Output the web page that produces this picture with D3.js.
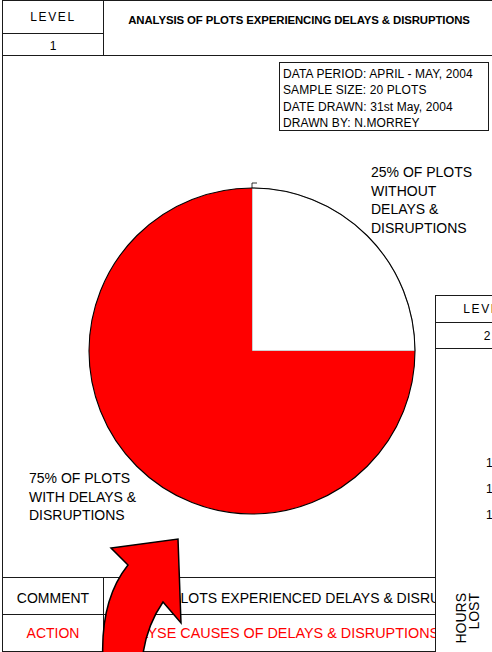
<!DOCTYPE html>
<html>
<head>
<meta charset="utf-8">
<script src="https://cdn.jsdelivr.net/npm/d3@7"></script>
<style>
  html, body { margin: 0; padding: 0; background: #fff; overflow: hidden; }
  svg { display: block; }
  text { font-family: "Liberation Sans", Arial, sans-serif; fill: #000; }
</style>
</head>
<body>
<svg id="chart" width="492" height="652"></svg>
<script>
// ---- data ----
const title = "ANALYSIS OF PLOTS EXPERIENCING DELAYS & DISRUPTIONS";
const levelNumbers = [1, 2];
const slicePercents = [25, 75];               // without / with delays
const sliceColors = ["#ffffff", "#ff0000"];
const sliceLabelLines = [
  ["WITHOUT", "DELAYS &", "DISRUPTIONS"],
  ["WITH DELAYS &", "DISRUPTIONS"]
];
const infoLines = [
  "DATA PERIOD: APRIL - MAY, 2004",
  "SAMPLE SIZE: 20 PLOTS",
  "DATE DRAWN: 31st May, 2004",
  "DRAWN BY: N.MORREY"
];
const commentText = "75% OF PLOTS EXPERIENCED DELAYS & DISRUPTIONS";
const actionText = "ANALYSE CAUSES OF DELAYS & DISRUPTIONS";
const hoursTicks = [100, 125, 150];
const hoursTitle = ["HOURS", "LOST"];

const svg = d3.select("#chart");
const line = "#1a1a1a";

function hline(g, x1, x2, y) {
  g.append("line").attr("x1", x1).attr("x2", x2).attr("y1", y).attr("y2", y)
    .attr("stroke", line).attr("stroke-width", 1);
}
function vline(g, x, y1, y2) {
  g.append("line").attr("x1", x).attr("x2", x).attr("y1", y1).attr("y2", y2)
    .attr("stroke", line).attr("stroke-width", 1);
}

// ---- level 1 sheet frame ----
const frame = svg.append("g");
const L = 2.5, R = 494, divX = 103.5;
hline(frame, L, R, 0.5);
hline(frame, L, divX, 33.5);
hline(frame, L, R, 55.5);
hline(frame, L, R, 577.5);
hline(frame, L, R, 614.5);
hline(frame, L, R, 651.5);
vline(frame, L, 0, 652);
vline(frame, divX, 0, 55.5);
vline(frame, divX, 577.5, 651.5);

frame.append("text").attr("x", 53).attr("y", 21)
  .attr("text-anchor", "middle").style("font-size", "12px").style("letter-spacing", "1.6px")
  .text("LEVEL");
frame.append("text").attr("x", 53).attr("y", 49.5)
  .attr("text-anchor", "middle").style("font-size", "12px")
  .text(levelNumbers[0]);
frame.append("text").attr("x", 299).attr("y", 24)
  .attr("text-anchor", "middle").style("font-size", "11.4px").style("font-weight", "bold")
  .style("letter-spacing", "-0.1px")
  .text(title);

// ---- info box ----
const info = svg.append("g");
info.append("rect").attr("x", 279.5).attr("y", 62.5).attr("width", 209).attr("height", 68)
  .attr("fill", "#fff").attr("stroke", line);
info.selectAll("text").data(infoLines).join("text")
  .attr("x", 283).attr("y", (d, i) => 77.5 + i * 16.5)
  .style("font-size", "12px").style("letter-spacing", "0.1px")
  .text(d => d);

// ---- pie ----
const cx = 252, cy = 351, radius = 163;
const pie = d3.pie().sort(null).value(d => d);
const arcs = pie(slicePercents);
const arc = d3.arc().innerRadius(0).outerRadius(radius);
const pieG = svg.append("g").attr("transform", `translate(${cx},${cy})`);
pieG.selectAll("path.slice").data(arcs).join("path")
  .attr("class", "slice")
  .attr("d", arc)
  .attr("fill", (d, i) => sliceColors[i])
  .attr("stroke", (d, i) => i === 0 ? "#888" : "none")
  .attr("stroke-width", 0.8);
pieG.append("path")
  .attr("d", d3.arc().innerRadius(radius).outerRadius(radius)({ startAngle: 0, endAngle: 2 * Math.PI }))
  .attr("fill", "none").attr("stroke", "#000").attr("stroke-width", 1.1);
// small leader tick at the slice boundary
pieG.append("path").attr("d", `M0,${-radius}V${-radius - 5}H5`)
  .attr("fill", "none").attr("stroke", "#000").attr("stroke-width", 0.8);

// slice labels
const labelPos = [[371, 177], [29, 483]];
const lineGap = [18.7, 18.5];
arcs.forEach((a, i) => {
  const lines = [`${slicePercents[i]}% OF PLOTS`, ...sliceLabelLines[i]];
  svg.append("g").selectAll("text").data(lines).join("text")
    .attr("x", labelPos[i][0]).attr("y", (d, j) => labelPos[i][1] + j * lineGap[i])
    .style("font-size", "14px")
    .text(d => d);
});

// ---- comment / action rows ----
svg.append("text").attr("x", 53).attr("y", 603).attr("text-anchor", "middle")
  .style("font-size", "14px").text("COMMENT");
svg.append("text").attr("x", 53).attr("y", 638).attr("text-anchor", "middle")
  .style("font-size", "14px").style("fill", "#ff0000").text("ACTION");
svg.append("text").attr("x", 116).attr("y", 603)
  .style("font-size", "14px").text(commentText);
svg.append("text").attr("x", 111).attr("y", 638)
  .style("font-size", "14.4px").style("fill", "#ff0000").text(actionText);

// ---- level 2 sheet (overlapping on the right) ----
const lvl2 = svg.append("g");
lvl2.append("rect").attr("x", 435.5).attr("y", 295.5).attr("width", 200).attr("height", 400)
  .attr("fill", "#fff").attr("stroke", line);
hline(lvl2, 435.5, 492, 322.5);
hline(lvl2, 435.5, 492, 348.5);
lvl2.append("text").attr("x", 486).attr("y", 313)
  .attr("text-anchor", "middle").style("font-size", "12px").style("letter-spacing", "1.6px")
  .text("LEVEL");
lvl2.append("text").attr("x", 487).attr("y", 340)
  .attr("text-anchor", "middle").style("font-size", "12px")
  .text(levelNumbers[1]);

const yHours = d3.scaleLinear().domain([100, 150]).range([514, 462]);
lvl2.selectAll("text.tick").data(hoursTicks).join("text")
  .attr("class", "tick")
  .attr("x", 486).attr("y", d => yHours(d) + 4.5)
  .style("font-size", "12px")
  .text(d => d);

lvl2.selectAll("text.ytitle").data(hoursTitle).join("text")
  .attr("class", "ytitle")
  .attr("transform", (d, i) => `translate(${465.5 + i * 13.5},593) rotate(-90)`)
  .attr("text-anchor", "end").style("font-size", "14px")
  .text(d => d);

// ---- curved arrow pointing up towards the pie ----
const arrow = d3.path();
arrow.moveTo(103, 662);
arrow.bezierCurveTo(101, 625, 108, 590, 128, 565);
arrow.lineTo(111, 548);
arrow.lineTo(178, 539);
arrow.lineTo(181, 623);
arrow.lineTo(163, 602);
arrow.bezierCurveTo(152, 618, 144, 640, 142, 662);
arrow.closePath();
svg.append("path").attr("d", arrow.toString())
  .attr("fill", "#ff0000").attr("stroke", "#000").attr("stroke-width", 1.5)
  .attr("stroke-linejoin", "miter");
</script>
</body>
</html>
